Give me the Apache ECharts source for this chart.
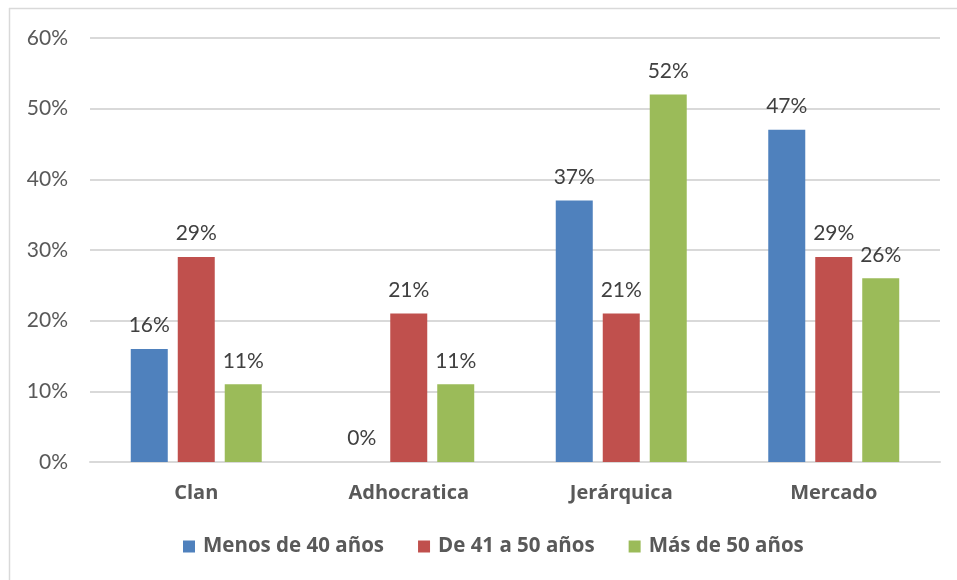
<!DOCTYPE html>
<html>
<head>
<meta charset="utf-8">
<script src="https://cdn.jsdelivr.net/npm/echarts@6/dist/echarts.min.js"></script>
<style>
  html, body { margin: 0; padding: 0; background: #fff; }
  #chart { width: 957px; height: 580px; }
</style>
</head>
<body>
<div id="chart"></div>
<script>
// Culture type by age group (percent of respondents)
const categories = ['Clan', 'Adhocratica', 'Jerárquica', 'Mercado'];
const seriesNames = ['Menos de 40 años', 'De 41 a 50 años', 'Más de 50 años'];
const menos40 = [16, 0, 37, 47];
const de41a50 = [29, 21, 21, 29];
const mas50 = [11, 11, 52, 26];
const yTicks = [0, 10, 20, 30, 40, 50, 60];
const colors = ['#4F81BD', '#C0504D', '#9BBB59'];

const FONT = 'Lato, "Open Sans", sans-serif';
const BOLD_FONT = '"Open Sans", Lato, sans-serif';
const chart = echarts.init(document.getElementById('chart'), null, { renderer: 'canvas' });

const makeSeries = (name, data, color) => ({
  name: name,
  type: 'bar',
  data: data,
  barWidth: 37,
  barGap: '27%',
  itemStyle: { color: color },
  label: {
    show: true,
    position: 'top',
    distance: 13,
    formatter: p => p.value + '%',
    color: '#404040',
    fontSize: 21,
    fontFamily: FONT
  }
});

chart.setOption({
  animation: false,
  backgroundColor: '#fff',
  graphic: [
    { type: 'line', shape: { x1: 9, y1: 8.5, x2: 957, y2: 8.5 }, style: { stroke: '#D9D9D9', lineWidth: 1.5 } },
    { type: 'line', shape: { x1: 9.5, y1: 8, x2: 9.5, y2: 580 }, style: { stroke: '#D9D9D9', lineWidth: 1.5 } }
  ],
  grid: { left: 90, right: 17, top: 38, bottom: 118 },
  legend: {
    data: seriesNames,
    bottom: 18,
    left: 178,
    itemWidth: 12,
    itemHeight: 12,
    itemGap: 34,
    icon: 'rect',
    textStyle: { color: '#595959', fontSize: 20.5, fontWeight: 'bold', fontFamily: BOLD_FONT, padding: [0, 0, 0, 3] }
  },
  xAxis: {
    type: 'category',
    data: categories,
    axisLine: { lineStyle: { color: '#D9D9D9', width: 2 } },
    axisTick: { show: false },
    axisLabel: { color: '#595959', fontSize: 20, fontWeight: 'bold', fontFamily: BOLD_FONT, margin: 21 }
  },
  yAxis: {
    type: 'value',
    min: yTicks[0],
    max: yTicks[yTicks.length - 1],
    interval: 10,
    axisLine: { show: false },
    axisTick: { show: false },
    splitLine: { lineStyle: { color: '#D9D9D9', width: 2 } },
    axisLabel: { color: '#595959', fontSize: 21, fontFamily: FONT, margin: 22, formatter: v => v + '%' }
  },
  series: [
    makeSeries(seriesNames[0], menos40, colors[0]),
    makeSeries(seriesNames[1], de41a50, colors[1]),
    makeSeries(seriesNames[2], mas50, colors[2])
  ]
});
</script>
</body>
</html>
